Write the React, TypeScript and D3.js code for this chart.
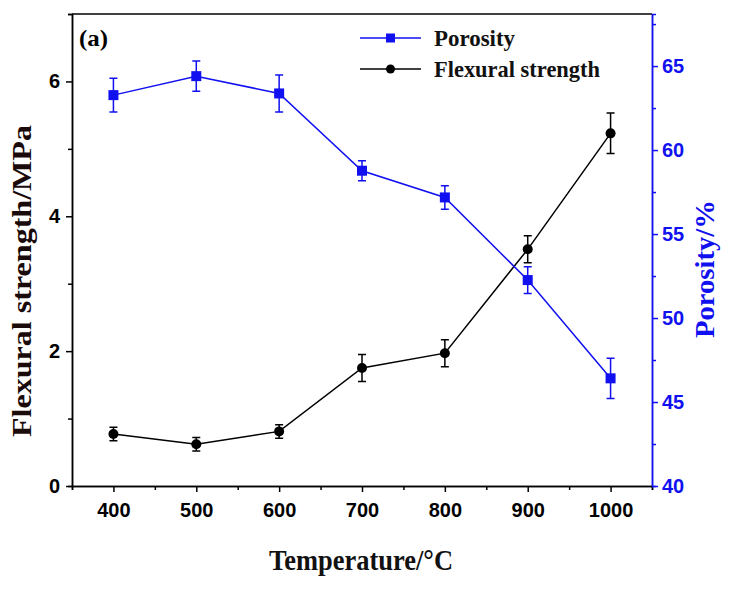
import { useEffect, useRef } from 'react';
import * as d3 from 'd3';

const temperatures = [400, 500, 600, 700, 800, 900, 1000];
const flexural = [0.77, 0.62, 0.81, 1.75, 1.97, 3.51, 5.23];
const flexuralErr = [0.1, 0.1, 0.1, 0.2, 0.2, 0.2, 0.3];
const porosity = [63.27, 64.4, 63.37, 58.77, 57.18, 52.26, 46.41];
const porosityErr = [1.0, 0.9, 1.1, 0.6, 0.7, 0.8, 1.2];

const xTicks = [400, 500, 600, 700, 800, 900, 1000];
const leftTicks = [0, 2, 4, 6];
const rightTicks = [40, 45, 50, 55, 60, 65];

const BLUE = '#1010f0';
const SERIF = '"Liberation Serif", "Times New Roman", serif';
const SANS = '"Liberation Sans", Arial, sans-serif';

const W = 732;
const H = 590;
const M = { left: 72, right: 652, top: 14, bottom: 486 };

export default function App() {
  const svgRef = useRef<SVGSVGElement>(null);

  useEffect(() => {
    if (!svgRef.current) return;
    const svg = d3.select(svgRef.current);
    svg.selectAll('*').remove();

    const x = d3.scaleLinear().domain([350, 1050]).range([M.left, M.right]);
    const yL = d3.scaleLinear().domain([0, 7]).range([M.bottom, M.top]);
    const yR = d3.scaleLinear().domain([40, 68.1]).range([M.bottom, M.top]);

    // top frame
    svg.append('line')
      .attr('x1', M.left).attr('x2', M.right)
      .attr('y1', M.top).attr('y2', M.top)
      .attr('stroke', '#000').attr('stroke-width', 1.5);

    const styleAxis = (g: d3.Selection<SVGGElement, unknown, null, undefined>, color: string) => {
      g.selectAll('path').attr('stroke', color).attr('stroke-width', 1.5);
      g.selectAll('line').attr('stroke', color).attr('stroke-width', 1.5);
      g.selectAll('text')
        .attr('fill', color)
        .style('font-family', SANS)
        .style('font-weight', 'bold')
        .style('font-size', '20px');
    };

    // minor ticks
    const minorX = d3.range(350, 1051, 50).filter(v => v % 100 !== 0);
    svg.append('g')
      .attr('transform', `translate(0,${M.bottom})`)
      .call(d3.axisBottom(x).tickValues(minorX).tickSize(4).tickFormat(() => ''))
      .call(g => styleAxis(g, '#000'));
    svg.append('g')
      .attr('transform', `translate(${M.left},0)`)
      .call(d3.axisLeft(yL).tickValues([1, 3, 5, 7]).tickSize(4).tickFormat(() => ''))
      .call(g => styleAxis(g, '#000'));
    svg.append('g')
      .attr('transform', `translate(${M.right},0)`)
      .call(d3.axisRight(yR).tickValues(d3.range(42.5, 68, 5)).tickSize(4).tickFormat(() => ''))
      .call(g => styleAxis(g, BLUE));

    // major axes
    svg.append('g')
      .attr('transform', `translate(0,${M.bottom})`)
      .call(d3.axisBottom(x).tickValues(xTicks).tickSize(6).tickSizeOuter(0).tickPadding(11).tickFormat(d3.format('d')))
      .call(g => styleAxis(g, '#000'));
    svg.append('g')
      .attr('transform', `translate(${M.left},0)`)
      .call(d3.axisLeft(yL).tickValues(leftTicks).tickSize(6).tickSizeOuter(0).tickPadding(6).tickFormat(d3.format('d')))
      .call(g => styleAxis(g, '#000'));
    svg.append('g')
      .attr('transform', `translate(${M.right},0)`)
      .call(d3.axisRight(yR).tickValues(rightTicks).tickSize(6).tickSizeOuter(0).tickPadding(4).tickFormat(d3.format('d')))
      .call(g => styleAxis(g, BLUE));

    // flexural strength series
    const fg = svg.append('g');
    const fLine = d3.line<number>().x((_, i) => x(temperatures[i])).y(d => yL(d));
    fg.append('path').datum(flexural).attr('d', fLine)
      .attr('fill', 'none').attr('stroke', '#000').attr('stroke-width', 1.5);
    flexural.forEach((v, i) => {
      const cx = x(temperatures[i]);
      const t = yL(v + flexuralErr[i]);
      const b = yL(v - flexuralErr[i]);
      fg.append('path')
        .attr('d', `M${cx},${t}V${b}M${cx - 4},${t}H${cx + 4}M${cx - 4},${b}H${cx + 4}`)
        .attr('stroke', '#000').attr('stroke-width', 1.5).attr('fill', 'none');
      fg.append('circle').attr('cx', cx).attr('cy', yL(v)).attr('r', 5).attr('fill', '#000');
    });

    // porosity series
    const pg = svg.append('g');
    const pLine = d3.line<number>().x((_, i) => x(temperatures[i])).y(d => yR(d));
    pg.append('path').datum(porosity).attr('d', pLine)
      .attr('fill', 'none').attr('stroke', BLUE).attr('stroke-width', 1.5);
    porosity.forEach((v, i) => {
      const cx = x(temperatures[i]);
      const t = yR(v + porosityErr[i]);
      const b = yR(v - porosityErr[i]);
      pg.append('path')
        .attr('d', `M${cx},${t}V${b}M${cx - 4},${t}H${cx + 4}M${cx - 4},${b}H${cx + 4}`)
        .attr('stroke', BLUE).attr('stroke-width', 1.5).attr('fill', 'none');
      pg.append('rect').attr('x', cx - 5).attr('y', yR(v) - 5).attr('width', 10).attr('height', 10).attr('fill', BLUE);
    });

    // legend
    const legend = [
      { label: 'Porosity', color: BLUE, shape: 'square', y: 38, len: 81 },
      { label: 'Flexural strength', color: '#000', shape: 'circle', y: 69, len: 166 },
    ];
    legend.forEach(l => {
      svg.append('line').attr('x1', 360).attr('x2', 421).attr('y1', l.y).attr('y2', l.y)
        .attr('stroke', l.color).attr('stroke-width', 1.5);
      if (l.shape === 'square') {
        svg.append('rect').attr('x', 386).attr('y', l.y - 4.5).attr('width', 9).attr('height', 9).attr('fill', l.color);
      } else {
        svg.append('circle').attr('cx', 390.5).attr('cy', l.y).attr('r', 4.5).attr('fill', l.color);
      }
      svg.append('text').attr('x', 434).attr('y', l.y + 8)
        .attr('textLength', l.len).attr('lengthAdjust', 'spacingAndGlyphs')
        .style('font-family', SERIF).style('font-weight', 'bold').style('font-size', '23px')
        .attr('fill', '#111').text(l.label);
    });

    svg.append('text').attr('x', 79).attr('y', 46)
      .attr('textLength', 29).attr('lengthAdjust', 'spacingAndGlyphs')
      .style('font-family', SERIF).style('font-weight', 'bold').style('font-size', '24px')
      .text('(a)');

    // axis titles
    svg.append('text')
      .attr('transform', `translate(31,281) rotate(-90)`)
      .attr('text-anchor', 'middle')
      .attr('textLength', 312).attr('lengthAdjust', 'spacingAndGlyphs')
      .style('font-family', SERIF).style('font-weight', 'bold').style('font-size', '28px')
      .attr('fill', '#1a0a0a')
      .text('Flexural strength/MPa');

    svg.append('text')
      .attr('transform', `translate(714,269) rotate(-90)`)
      .attr('text-anchor', 'middle')
      .attr('textLength', 138).attr('lengthAdjust', 'spacingAndGlyphs')
      .style('font-family', SERIF).style('font-weight', 'bold').style('font-size', '27px')
      .attr('fill', BLUE)
      .text('Porosity/%');

    svg.append('text').attr('x', 269).attr('y', 570)
      .attr('textLength', 184).attr('lengthAdjust', 'spacingAndGlyphs')
      .style('font-family', SERIF).style('font-weight', 'bold').style('font-size', '29px')
      .attr('fill', '#111')
      .text('Temperature/°C');
  }, []);

  return (
    <svg
      ref={svgRef}
      width={W}
      height={H}
      style={{ position: 'absolute', left: 0, top: 0, background: '#fff' }}
    />
  );
}
